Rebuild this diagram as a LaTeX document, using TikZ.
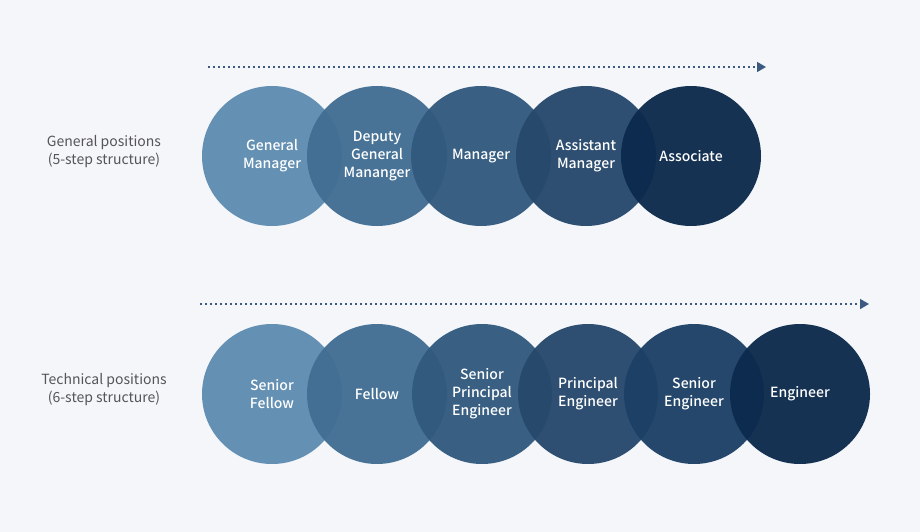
\documentclass[tikz,border=0pt]{standalone}
\usepackage{fontspec}
\setmainfont{Noto Sans CJK KR}[BoldFont={Noto Sans CJK KR Medium}]
\usetikzlibrary{arrows.meta}
\definecolor{bg}{HTML}{F4F6FA}
\definecolor{cA}{HTML}{5E8CB1}
\definecolor{cB}{HTML}{426E93}
\definecolor{cC}{HTML}{325A7F}
\definecolor{cD}{HTML}{26496C}
\definecolor{cE}{HTML}{1C4066}
\definecolor{cF}{HTML}{0C2A4D}
\definecolor{arr}{HTML}{3A5A80}
\definecolor{lbl}{HTML}{555555}
\tikzset{
  bubble/.style={circle, minimum size=140pt, inner sep=0pt, fill opacity=0.96, text opacity=1,
    text=white, align=center, font=\fontsize{14}{18}\selectfont\bfseries},
  sidelabel/.style={text=lbl, align=center, font=\fontsize{14}{18}\selectfont},
  flow/.style={arr, line width=1.6pt, dash pattern=on 1.8pt off 3.2pt, -{Triangle[length=9pt,width=10pt]}}
}
\begin{document}
\begin{tikzpicture}[x=1pt,y=-1pt]
\fill[bg] (0,0) rectangle (920,532);
\useasboundingbox (0,0) rectangle (920,532);
% top row
\coordinate (t0) at (208,67);
\coordinate (t1) at (766,67);
\draw[flow] (t0) -- (t1);
\node[sidelabel] (gl) at (104,152) {General positions\\(5-step structure)};
\node[bubble, fill=cA] (g1) at (272,156) {General\\Manager};
\node[bubble, fill=cB] (g2) at (377,156) {Deputy\\General\\Mananger};
\node[bubble, fill=cC] (g3) at (481,156) {Manager};
\node[bubble, fill=cD] (g4) at (586,156) {Assistant\\Manager};
\node[bubble, fill=cF] (g5) at (691,156) {Associate};
% bottom row
\coordinate (b0) at (200,304);
\coordinate (b1) at (869,304);
\draw[flow] (b0) -- (b1);
\node[sidelabel] (tl) at (104,390) {Technical positions\\(6-step structure)};
\node[bubble, fill=cA] (s1) at (272,394) {Senior\\Fellow};
\node[bubble, fill=cB] (s2) at (377,394) {Fellow};
\node[bubble, fill=cC] (s3) at (482,394) {Senior\\Principal\\Engineer};
\node[bubble, fill=cD] (s4) at (588,394) {Principal\\Engineer};
\node[bubble, fill=cE] (s5) at (694,394) {Senior\\Engineer};
\node[bubble, fill=cF] (s6) at (800,394) {Engineer};
\end{tikzpicture}
\end{document}
